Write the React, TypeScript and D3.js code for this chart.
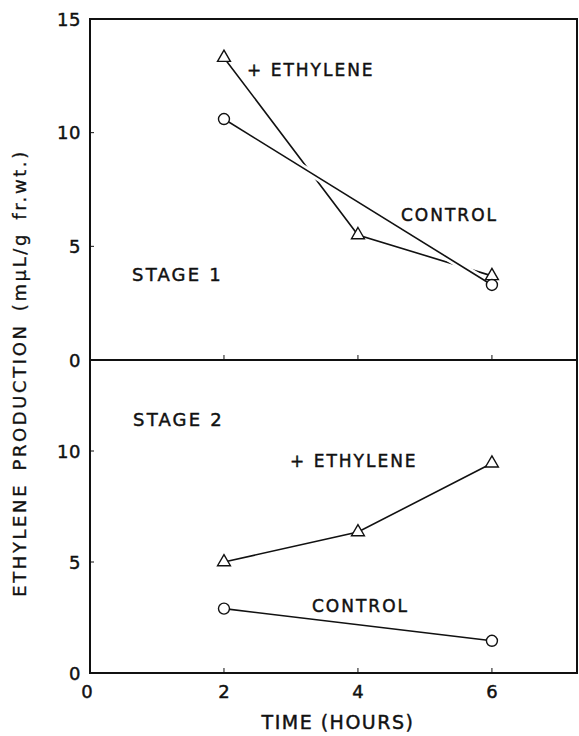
import React, { useEffect, useRef } from 'react';
import * as d3 from 'd3';

// hours sampled
const hours = [2, 4, 6];

// Stage 1 (top panel)
const stage1Ethylene = [13.3, 5.5, 3.7];
const stage1Control = [10.6, 3.3];
const stage1ControlHours = [2, 6];

// Stage 2 (bottom panel)
const stage2Ethylene = [5.0, 6.35, 9.45];
const stage2Control = [2.9, 1.45];
const stage2ControlHours = [2, 6];

const xTicks = [0, 2, 4, 6];
const topYTicks = [0, 5, 10, 15];
const bottomYTicks = [0, 5, 10];

const W = 579;
const H = 736;
const FONT = "'DejaVu Sans', sans-serif";

function App() {
  const ref = useRef<SVGSVGElement>(null);

  useEffect(() => {
    drawChart();
  }, []);

  function drawChart() {
    const svg = d3.select(ref.current);
    svg.selectAll('*').remove();

    const left = 90;
    const right = 577;
    const top = 19;
    const mid = 360;
    const bottom = 673;

    const x = d3.scaleLinear().domain([0, 7.27]).range([left, right]);
    const yTop = d3.scaleLinear().domain([0, 15]).range([mid, top]);
    const yBot = d3.scaleLinear().domain([0, 14.1]).range([bottom, mid]);

    const g = svg.append('g');

    const panels = [
      {
        y: yTop,
        eth: hours.map((h, i) => [h, stage1Ethylene[i]]),
        ctl: stage1ControlHours.map((h, i) => [h, stage1Control[i]]),
        yTicks: topYTicks,
        base: mid
      },
      {
        y: yBot,
        eth: hours.map((h, i) => [h, stage2Ethylene[i]]),
        ctl: stage2ControlHours.map((h, i) => [h, stage2Control[i]]),
        yTicks: bottomYTicks,
        base: bottom
      }
    ];

    // plain text helper, slightly thickened with a stroke like the hand lettering
    const text = (txt: string, tx: number, ty: number, size: number, anchor = 'start', spacing = 0) =>
      g.append('text')
        .attr('x', tx)
        .attr('y', ty)
        .attr('text-anchor', anchor)
        .attr('font-family', FONT)
        .attr('font-size', size)
        .attr('letter-spacing', spacing)
        .attr('fill', '#111')
        .attr('stroke', '#111')
        .attr('stroke-width', 0.45)
        .text(txt);

    panels.forEach(p => {
      const line = d3
        .line<number[]>()
        .x(d => x(d[0]))
        .y(d => p.y(d[1]));

      // + ethylene line
      g.append('path')
        .attr('d', line(p.eth))
        .attr('fill', 'none')
        .attr('stroke', '#111')
        .attr('stroke-width', 1.6);

      // white halo of control line, cutting the ethylene line where they cross
      g.append('path')
        .attr('d', line(p.ctl))
        .attr('fill', 'none')
        .attr('stroke', '#fff')
        .attr('stroke-width', 7);

      g.append('path')
        .attr('d', line(p.ctl))
        .attr('fill', 'none')
        .attr('stroke', '#111')
        .attr('stroke-width', 1.6);

      // triangles
      g.selectAll()
        .data(p.eth)
        .enter()
        .append('path')
        .attr('d', d3.symbol().type(d3.symbolTriangle).size(72)())
        .attr('transform', d => `translate(${x(d[0])}, ${p.y(d[1])})`)
        .attr('fill', '#fff')
        .attr('stroke', '#111')
        .attr('stroke-width', 1.4);

      // circles
      g.selectAll()
        .data(p.ctl)
        .enter()
        .append('circle')
        .attr('cx', d => x(d[0]))
        .attr('cy', d => p.y(d[1]))
        .attr('r', 5.5)
        .attr('fill', '#fff')
        .attr('stroke', '#111')
        .attr('stroke-width', 1.4);

      // y ticks and labels
      p.yTicks.forEach(t => {
        g.append('line')
          .attr('x1', left)
          .attr('x2', left + 4)
          .attr('y1', p.y(t))
          .attr('y2', p.y(t))
          .attr('stroke', '#111')
          .attr('stroke-width', 1);
        text(String(t), left - 9, p.y(t) + 6.5, 18, 'end', 0.5);
      });

      // x ticks (inward)
      hours.forEach(h => {
        g.append('line')
          .attr('x1', x(h))
          .attr('x2', x(h))
          .attr('y1', p.base)
          .attr('y2', p.base - 5)
          .attr('stroke', '#111')
          .attr('stroke-width', 1);
      });
    });

    // frame
    g.append('rect')
      .attr('x', left)
      .attr('y', top)
      .attr('width', right - left)
      .attr('height', bottom - top)
      .attr('fill', 'none')
      .attr('stroke', '#111')
      .attr('stroke-width', 2);
    g.append('line')
      .attr('x1', left)
      .attr('x2', right)
      .attr('y1', mid)
      .attr('y2', mid)
      .attr('stroke', '#111')
      .attr('stroke-width', 2);

    // x tick labels
    xTicks.forEach(t => {
      text(String(t), t === 0 ? x(t) - 3 : x(t), 698, 18, 'middle');
    });

    text('+ ETHYLENE', 247, 76, 17, 'start', 2);
    text('CONTROL', 401, 221, 17, 'start', 2);
    text('STAGE 1', 132, 281, 18, 'start', 2.2);
    text('STAGE 2', 133, 426, 18, 'start', 2.2);
    text('+ ETHYLENE', 290, 467, 17, 'start', 2);
    text('CONTROL', 312, 612, 17, 'start', 2);

    text('TIME (HOURS)', 338, 729, 19, 'middle', 1.5);

    g.append('text')
      .attr('transform', `translate(26, 373) rotate(-90)`)
      .attr('text-anchor', 'middle')
      .attr('font-family', FONT)
      .attr('font-size', 18)
      .attr('letter-spacing', 2.6)
      .attr('word-spacing', 4)
      .attr('fill', '#111')
      .attr('stroke', '#111')
      .attr('stroke-width', 0.3)
      .text('ETHYLENE PRODUCTION (mμL/g fr.wt.)');
  }

  return (
    <svg
      ref={ref}
      width={W}
      height={H}
      style={{ position: 'absolute', left: 0, top: 0, background: '#fff' }}
    />
  );
}

export default App;
